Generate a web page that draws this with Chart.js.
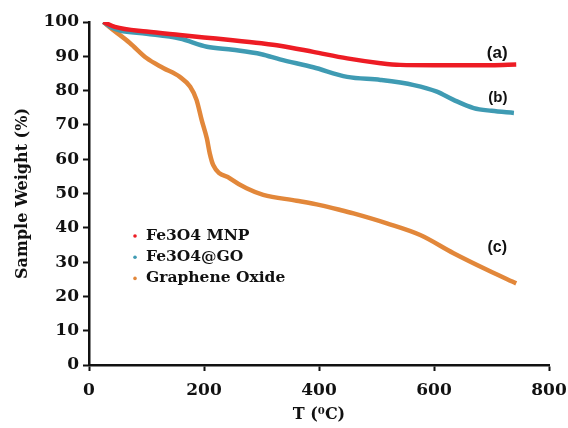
<!DOCTYPE html>
<html><head><meta charset="utf-8">
<script src="https://cdn.jsdelivr.net/npm/chart.js@4/dist/chart.umd.min.js"></script>
<style>html,body{margin:0;padding:0;background:#fff;overflow:hidden}#wrap{width:568px;height:428px}</style>
</head><body><div id="wrap"><canvas id="c" width="568" height="428"></canvas></div>
<script>
// ---- data ----
const seriesNames = ['Fe3O4 MNP', 'Fe3O4@GO', 'Graphene Oxide'];
const mnpT = [25, 45, 100, 158, 200, 250, 300, 332, 390, 449, 507, 541, 600, 700, 743];
const mnpW = [100, 98.6, 97.2, 96.2, 95.5, 94.7, 93.8, 93.1, 91.3, 89.4, 88.0, 87.5, 87.4, 87.4, 87.6];
const goT = [25, 40, 54, 100, 158, 205, 250, 300, 332, 390, 449, 507, 565, 605, 634, 669, 700, 739];
const goW = [100, 98.3, 97.5, 96.6, 95.2, 92.8, 91.9, 90.6, 89.1, 86.8, 84.0, 83.1, 81.6, 79.7, 77.3, 74.9, 74.1, 73.5];
const gradT = [25, 42, 71, 100, 129, 158, 176, 187, 196, 205, 210, 216, 245, 274, 303, 361, 402, 437, 460, 518, 576, 634, 693, 743];
const gradW = [100, 97.7, 93.9, 89.5, 86.6, 84.0, 81.1, 77.3, 71.4, 66.0, 61.7, 58.3, 54.4, 51.5, 49.6, 47.9, 46.6, 45.2, 44.2, 41.3, 37.9, 32.6, 27.7, 23.8];
const xTicks = [0, 200, 400, 600, 800];
const yTicks = [0, 10, 20, 30, 40, 50, 60, 70, 80, 90, 100];
const curveTags = ['(a)', '(b)', '(c)'];
const tagT = [710, 711, 710];
const tagW = [91.0, 77.8, 34.1];

const colors = ['#ed1c24', '#3f9bb3', '#e2873a'];
const serif = '"DejaVu Serif", serif';

function pts(t, w) { return t.map((v, i) => ({x: v, y: w[i]})); }

const overlay = {
  id: 'overlay',
  afterDatasetsDraw(chart) {
    const ctx = chart.ctx;
    ctx.save();
    // legend
    ctx.font = 'bold 15.5px ' + serif;
    ctx.textBaseline = 'middle';
    ctx.textAlign = 'left';
    chart.data.datasets.forEach((ds, i) => {
      const y = 236 + i * 21.2;
      ctx.fillStyle = ds.borderColor;
      ctx.beginPath(); ctx.arc(135, y, 1.8, 0, Math.PI * 2); ctx.fill();
      ctx.fillStyle = '#111';
      ctx.fillText(ds.label, 146, y);
    });
    // curve tags
    const xs = chart.scales.x, ys = chart.scales.y;
    ctx.textAlign = 'center';
    const sizes = [17, 15, 16];
    curveTags.forEach((t, i) => {
      ctx.font = 'bold ' + sizes[i] + 'px "Liberation Sans", Arial, sans-serif';
      ctx.fillStyle = '#111';
      ctx.fillText(t, xs.getPixelForValue(tagT[i]), ys.getPixelForValue(tagW[i]));
    });
    ctx.restore();
  }
};

new Chart(document.getElementById('c'), {
  type: 'scatter',
  data: {
    datasets: [
      {label: seriesNames[0], data: pts(mnpT, mnpW)},
      {label: seriesNames[1], data: pts(goT, goW)},
      {label: seriesNames[2], data: pts(gradT, gradW)}
    ].map((d, i) => Object.assign(d, {
      showLine: true, borderColor: colors[i], backgroundColor: colors[i],
      borderWidth: 4.5, pointRadius: 0, cubicInterpolationMode: 'monotone', fill: false
    }))
  },
  plugins: [overlay],
  options: {
    responsive: false, animation: false, devicePixelRatio: 1,
    layout: {padding: {top: 22, right: 19, bottom: 0, left: 0}},
    plugins: {legend: {display: false}, tooltip: {enabled: false}},
    scales: {
      x: {
        type: 'linear', min: 0, max: 800,
        afterBuildTicks: s => { s.ticks = xTicks.map(v => ({value: v})); },
        afterFit: s => { s.height = 63; s.paddingRight = 0; s.paddingLeft = 0; },
        ticks: {color: '#111', font: {family: serif, size: 17, weight: 'bold'}, padding: 9, maxRotation: 0},
        grid: {drawOnChartArea: false, drawTicks: true, tickLength: 6, tickColor: '#111', tickWidth: 2},
        border: {display: true, color: '#111', width: 2.5},
        title: {display: true, text: 'T (\u2070C)', color: '#111', font: {family: serif, size: 16, weight: 'bold'}, padding: {top: 0, bottom: 4}}
      },
      y: {
        min: 0, max: 100,
        afterBuildTicks: s => { s.ticks = yTicks.map(v => ({value: v})); },
        afterFit: s => { s.width = 89; s.paddingTop = 0; s.paddingBottom = 0; },
        ticks: {color: '#111', font: {family: serif, size: 17, weight: 'bold'}, padding: 4},
        grid: {drawOnChartArea: false, drawTicks: true, tickLength: 6, tickColor: '#111', tickWidth: 2},
        border: {display: true, color: '#111', width: 2.5},
        title: {display: true, text: 'Sample Weight (%)', color: '#111', font: {family: serif, size: 16, weight: 'bold'}, padding: {top: 13, bottom: 0}}
      }
    }
  }
});
</script></body></html>
